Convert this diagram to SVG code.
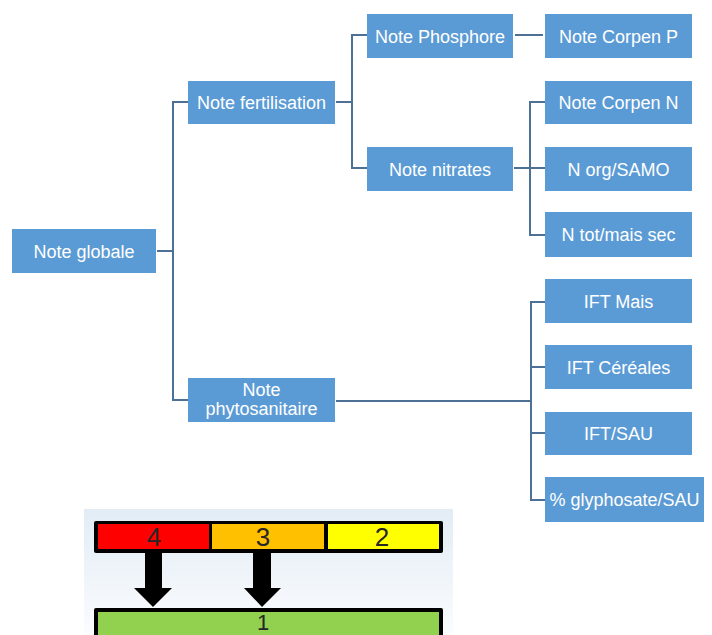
<svg xmlns="http://www.w3.org/2000/svg" width="712" height="635" viewBox="0 0 712 635">
<style>
.box{fill:#5b9bd5;}
.lbl{fill:#ffffff;font-family:"Liberation Sans",Arial,sans-serif;font-size:18px;text-anchor:middle;}
.con{fill:none;stroke:#4d7095;stroke-width:2;}
.num{fill:#262626;font-family:"Liberation Sans",Arial,sans-serif;font-size:26px;text-anchor:middle;}
</style>
<defs>
<linearGradient id="bg" x1="0" y1="0" x2="0" y2="1">
<stop offset="0" stop-color="#e2ecf5"/>
<stop offset="1" stop-color="#fbfcfe"/>
</linearGradient>
</defs>
<rect width="712" height="635" fill="#ffffff"/>
<g id="connectors">
<path class="con" d="M157,251 H173 M188,102 H173 V400 H188"/>
<path class="con" d="M336,102 H352 M367,35 H352 V168 H367"/>
<path class="con" d="M515,35 H543"/>
<path class="con" d="M514,168 H545 M545,102 H530 V235 H545"/>
<path class="con" d="M336,401 H531 M545,302 H531 V500 H545 M531,367 H545 M531,433 H545"/>
</g>
<g id="note-globale"><rect class="box" x="12" y="229" width="144" height="44"/><text class="lbl" x="84" y="257.5">Note globale</text></g>
<g id="note-fertilisation"><rect class="box" x="188" y="81" width="147" height="43"/><text class="lbl" x="261.5" y="108.5">Note fertilisation</text></g>
<g id="note-phytosanitaire"><rect class="box" x="188" y="378" width="147" height="44"/><text class="lbl" x="261.5" y="396">Note</text><text class="lbl" x="261.5" y="415">phytosanitaire</text></g>
<g id="note-phosphore"><rect class="box" x="367" y="14" width="146" height="44"/><text class="lbl" x="440" y="42.5">Note Phosphore</text></g>
<g id="note-nitrates"><rect class="box" x="367" y="147" width="146" height="44"/><text class="lbl" x="440" y="175.5">Note nitrates</text></g>
<g id="note-corpen-p"><rect class="box" x="545" y="14" width="147" height="44"/><text class="lbl" x="618.5" y="42.5">Note Corpen P</text></g>
<g id="note-corpen-n"><rect class="box" x="545" y="81" width="147" height="43"/><text class="lbl" x="618.5" y="108.5">Note Corpen N</text></g>
<g id="n-org-samo"><rect class="box" x="545" y="147" width="147" height="44"/><text class="lbl" x="618.5" y="175.5">N org/SAMO</text></g>
<g id="n-tot-mais-sec"><rect class="box" x="545" y="212" width="147" height="45"/><text class="lbl" x="618.5" y="241">N tot/mais sec</text></g>
<g id="ift-mais"><rect class="box" x="545" y="279" width="147" height="44"/><text class="lbl" x="618.5" y="307.5">IFT Mais</text></g>
<g id="ift-cereales"><rect class="box" x="545" y="345" width="147" height="44"/><text class="lbl" x="618.5" y="373.5">IFT Céréales</text></g>
<g id="ift-sau"><rect class="box" x="545" y="412" width="147" height="43"/><text class="lbl" x="618.5" y="440">IFT/SAU</text></g>
<g id="glyphosate-sau"><rect class="box" x="545" y="477" width="159" height="45"/><text class="lbl" x="624.5" y="506">% glyphosate/SAU</text></g>
<g id="legend">
<rect x="84" y="509" width="369" height="126" fill="url(#bg)"/>
<rect x="94" y="521" width="349" height="32" fill="#000000" rx="2"/>
<rect x="98" y="524" width="111" height="25" fill="#ff0000"/>
<rect x="212" y="524" width="112" height="25" fill="#ffc000"/>
<rect x="328" y="524" width="111" height="25" fill="#ffff00"/>
<text class="num" x="154" y="546">4</text>
<text class="num" x="263" y="546">3</text>
<text class="num" x="382" y="546">2</text>
<path d="M145,553 H162 V588 H172 L153,607 L134,588 H145 Z" fill="#000000"/>
<path d="M253,553 H271 V588 H281 L262,607 L244,588 H253 Z" fill="#000000"/>
<rect x="94" y="608" width="349" height="40" fill="#000000" rx="2"/>
<rect x="98" y="612" width="341" height="30" fill="#92d050"/>
<text class="num" x="263" y="630" style="font-size:22px">1</text>
</g>
</svg>
